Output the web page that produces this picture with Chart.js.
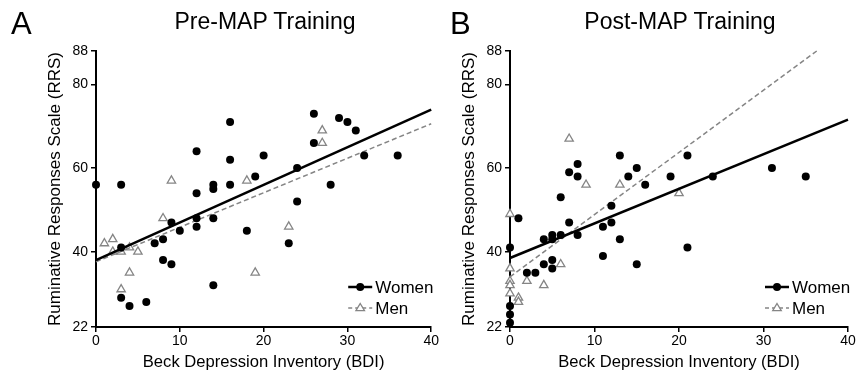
<!DOCTYPE html>
<html>
<head>
<meta charset="utf-8">
<script src="https://cdn.jsdelivr.net/npm/chart.js@4.4.1/dist/chart.umd.min.js"></script>
<style>
  body { margin: 0; background: #fff; font-family: "Liberation Sans", Arial, sans-serif; }
  #wrap { position: relative; width: 859px; height: 382px; overflow: hidden; }
  .box { position: absolute; top: 0; height: 382px; }
  .letter { position: absolute; font-size: 31px; color: #000; line-height: 1; }
  .title { position: absolute; font-size: 23px; color: #000; line-height: 1; transform: translateX(-50%); white-space: nowrap; }
</style>
</head>
<body>
<div id="wrap">
  <div class="box" style="left:0;width:440px"><canvas id="pre"></canvas></div>
  <div class="box" style="left:414px;width:445px"><canvas id="post"></canvas></div>
  <div class="letter" style="left:11px;top:8px">A</div>
  <div class="title" style="left:265px;top:10px">Pre-MAP Training</div>
  <div class="letter" style="left:450px;top:8px">B</div>
  <div class="title" style="left:680px;top:10px">Post-MAP Training</div>
</div>
<script>
// Pre-MAP training
const preWomenBDI = [0, 3, 16, 12, 16, 20, 19, 14, 14, 16, 12, 9, 12, 12, 14, 10, 7, 8, 3, 8, 9, 14, 3, 4, 6, 18,
                     26, 29, 30, 31, 26, 32, 36, 24, 28, 24, 23];
const preWomenRRS = [56, 56, 71, 64, 62, 63, 58, 56, 55, 56, 54, 47, 48, 46, 48, 45, 42, 43, 41, 38, 37, 32, 29, 27, 28, 45,
                     73, 72, 71, 69, 66, 63, 63, 60, 56, 52, 42];
const preMenBDI = [1, 2, 2, 3, 4, 5, 4, 3, 9, 8, 18, 19, 27, 27, 23];
const preMenRRS = [42, 43, 40, 40, 41, 40, 35, 31, 57, 48, 57, 35, 69, 66, 46];
const preWomenFitBDI = [0, 40];
const preWomenFitRRS = [38, 74];
const preMenFitBDI = [0, 40];
const preMenFitRRS = [37.6, 70.6];

// Post-MAP training
const postWomenBDI = [0, 0, 0, 0, 1, 2, 3, 4, 4, 5, 5, 5, 5, 6, 6, 7, 7, 8, 8, 8, 11, 11, 12, 12, 13, 13, 14, 15, 15, 16, 19,
                      21, 21, 24, 31, 35];
const postWomenRRS = [41, 27, 25, 23, 48, 35, 35, 43, 37, 44, 43, 38, 36, 44, 53, 59, 47, 61, 58, 44, 46, 39, 51, 47, 63, 43, 58, 60, 37, 56, 58,
                      63, 41, 58, 60, 58];
const postMenBDI = [0, 0, 0, 0, 0, 1, 1, 2, 4, 6, 7, 9, 13, 20];
const postMenRRS = [49, 36, 33, 32, 30, 29, 28, 33, 32, 37, 67, 56, 56, 54];
const postWomenFitBDI = [0, 40];
const postWomenFitRRS = [38.5, 71.6];
const postMenFitBDI = [0, 36.3];
const postMenFitRRS = [34, 88];

const xTicks = [0, 10, 20, 30, 40];
const yTicks = [22, 40, 60, 80, 88];
const seriesNames = ["Women", "Men"];

const FONT = "'Liberation Sans', Arial, sans-serif";
const MEN_GRAY = "#858585";

function pts(xs, ys) {
  return xs.map((x, i) => ({ x: x, y: ys[i] }));
}

const insideLegend = {
  id: "insideLegend",
  afterDatasetsDraw(chart) {
    const { ctx, chartArea } = chart;
    const x0 = chartArea.right - 83, x1 = chartArea.right - 59, tx = chartArea.right - 56;
    const rows = [chartArea.bottom - 40, chartArea.bottom - 19];
    ctx.save();
    ctx.font = "17px " + FONT;
    ctx.textBaseline = "middle";
    // Women
    let y = rows[0];
    ctx.strokeStyle = "#000"; ctx.lineWidth = 2.5; ctx.setLineDash([]);
    ctx.beginPath(); ctx.moveTo(x0, y); ctx.lineTo(x1, y); ctx.stroke();
    ctx.fillStyle = "#000";
    ctx.beginPath(); ctx.arc((x0 + x1) / 2, y, 4, 0, Math.PI * 2); ctx.fill();
    ctx.fillText(seriesNames[0], tx, y + 1);
    // Men
    y = rows[1];
    ctx.strokeStyle = MEN_GRAY; ctx.lineWidth = 1.5; ctx.setLineDash([4, 3]);
    ctx.beginPath(); ctx.moveTo(x0, y); ctx.lineTo(x1, y); ctx.stroke();
    ctx.setLineDash([]);
    const cx = (x0 + x1) / 2, r = 4.5;
    ctx.fillStyle = "#fff";
    ctx.beginPath();
    ctx.moveTo(cx, y - r); ctx.lineTo(cx + r * 0.95, y + r * 0.6); ctx.lineTo(cx - r * 0.95, y + r * 0.6); ctx.closePath();
    ctx.fill(); ctx.lineWidth = 1.3; ctx.stroke();
    ctx.fillStyle = "#000";
    ctx.fillText(seriesNames[1], tx, y + 1);
    ctx.restore();
  }
};

function makeChart(id, womenX, womenY, menX, menY, wfx, wfy, mfx, mfy, rightPad) {
  return new Chart(document.getElementById(id), {
    type: "scatter",
    data: {
      datasets: [
        {
          type: "line", label: "Women fit", data: pts(wfx, wfy),
          borderColor: "#000", borderWidth: 2.5, pointRadius: 0, fill: false, clip: false, order: 1
        },
        {
          type: "line", label: "Men fit", data: pts(mfx, mfy),
          borderColor: MEN_GRAY, borderWidth: 1.5, borderDash: [5, 3], pointRadius: 0, fill: false, clip: false, order: 2
        },
        {
          label: seriesNames[1], data: pts(menX, menY),
          pointStyle: "triangle", pointRadius: 4.8, pointBorderWidth: 1.3,
          pointBorderColor: MEN_GRAY, pointBackgroundColor: "#fff", clip: false, order: 3
        },
        {
          label: seriesNames[0], data: pts(womenX, womenY),
          pointStyle: "circle", pointRadius: 4, pointBorderWidth: 0,
          pointBackgroundColor: "#000", clip: false, order: 0
        }
      ]
    },
    options: {
      responsive: true,
      maintainAspectRatio: false,
      animation: false,
      events: [],
      layout: { padding: { top: 51, right: rightPad, left: 0, bottom: 0 } },
      plugins: { legend: { display: false }, tooltip: { enabled: false } },
      scales: {
        x: {
          type: "linear", min: 0, max: 40,
          afterBuildTicks: s => { s.ticks = xTicks.map(v => ({ value: v })); },
          afterFit: s => { s.height = 55; },
          border: { color: "#000", width: 2 },
          grid: { drawOnChartArea: false, drawTicks: true, tickLength: 5, color: "#000", lineWidth: 1.5 },
          ticks: { color: "#000", font: { family: FONT, size: 14 }, padding: 1, maxRotation: 0 },
          title: {
            display: true, text: "Beck Depression Inventory (BDI)", color: "#000",
            font: { family: FONT, size: 16.6 }, padding: { top: 0, bottom: 10 }
          }
        },
        y: {
          type: "linear", min: 22, max: 88,
          afterBuildTicks: s => { s.ticks = yTicks.map(v => ({ value: v })); },
          afterFit: s => { s.width = 96; },
          border: { color: "#000", width: 2 },
          grid: { drawOnChartArea: false, drawTicks: true, tickLength: 5, color: "#000", lineWidth: 1.5 },
          ticks: { color: "#000", font: { family: FONT, size: 14 }, padding: 3 },
          title: {
            display: true, text: "Ruminative Responses Scale (RRS)", color: "#000",
            font: { family: FONT, size: 17 }, padding: { top: 45, bottom: 0 }
          }
        }
      }
    },
    plugins: [insideLegend]
  });
}

makeChart("pre", preWomenBDI, preWomenRRS, preMenBDI, preMenRRS,
  preWomenFitBDI, preWomenFitRRS, preMenFitBDI, preMenFitRRS, 6);
makeChart("post", postWomenBDI, postWomenRRS, postMenBDI, postMenRRS,
  postWomenFitBDI, postWomenFitRRS, postMenFitBDI, postMenFitRRS, 11);
</script>
</body>
</html>
